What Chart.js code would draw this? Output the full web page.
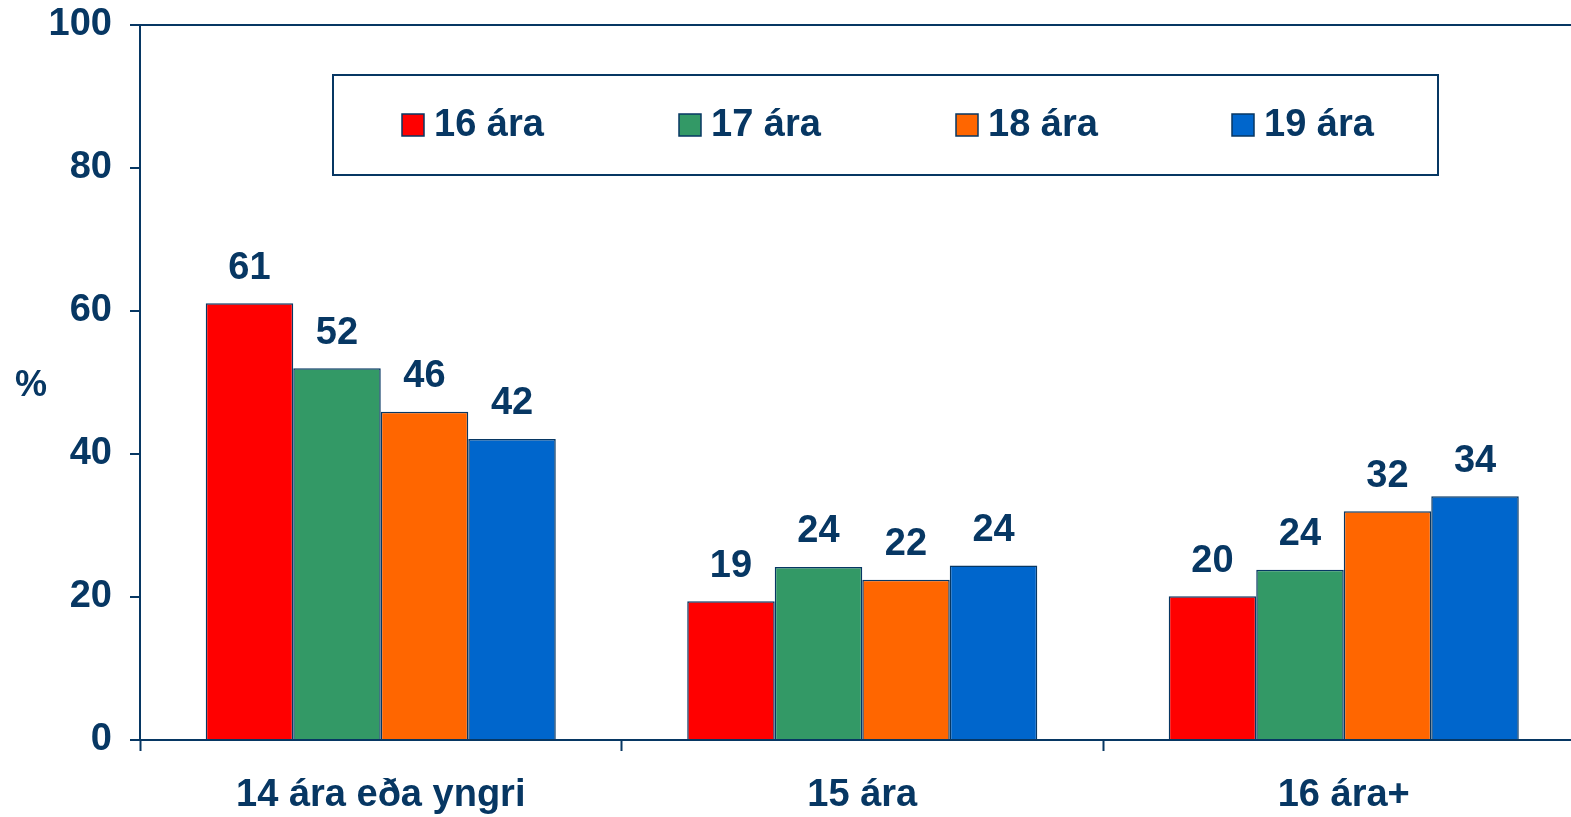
<!DOCTYPE html>
<html>
<head>
<meta charset="utf-8">
<script src="https://cdn.jsdelivr.net/npm/chart.js@4"></script>
<style>
  html, body { margin: 0; padding: 0; background: #fff; overflow: hidden; }
  #wrap { width: 1600px; height: 817px; }
</style>
</head>
<body>
<div id="wrap"><canvas id="c" width="1600" height="817"></canvas></div>
<script>
const categories = ['14 ára eða yngri', '15 ára', '16 ára+'];
const seriesNames = ['16 ára', '17 ára', '18 ára', '19 ára'];
const values16 = [61.1, 19.4, 20.1];
const values17 = [52.0, 24.2, 23.8];
const values18 = [45.9, 22.4, 32.0];
const values19 = [42.1, 24.4, 34.1];
const yTicks = [0, 20, 40, 60, 80, 100];
const seriesColors = ['#FF0000', '#339966', '#FF6600', '#0066CC'];

const NAVY = '#073763';
const FONT = '"Liberation Sans", Arial, sans-serif';

const allValues = [values16, values17, values18, values19];

const labelPlugin = {
  id: 'extras',
  afterDatasetsDraw(chart) {
    const ctx = chart.ctx;
    ctx.save();
    ctx.fillStyle = NAVY;
    ctx.font = 'bold 38px ' + FONT;
    ctx.textAlign = 'center';
    ctx.textBaseline = 'middle';
    chart.data.datasets.forEach((ds, i) => {
      const meta = chart.getDatasetMeta(i);
      meta.data.forEach((bar, j) => {
        ctx.fillText(String(Math.round(ds.data[j])), bar.x, bar.y - 35);
      });
    });
    ctx.restore();
  },
  afterDraw(chart) {
    const ctx = chart.ctx;
    ctx.save();
    // y axis unit
    ctx.fillStyle = NAVY;
    ctx.font = 'bold 36px ' + FONT;
    ctx.textAlign = 'center';
    ctx.textBaseline = 'middle';
    ctx.fillText('%', 31, 386);
    // legend box
    ctx.strokeStyle = NAVY;
    ctx.lineWidth = 2;
    ctx.strokeRect(333, 75, 1105, 100);
    const xs = [402, 679, 956, 1232];
    ctx.font = 'bold 38px ' + FONT;
    ctx.textAlign = 'left';
    chart.data.datasets.forEach((ds, i) => {
      ctx.fillStyle = ds.backgroundColor;
      ctx.fillRect(xs[i], 114, 22, 22);
      ctx.strokeStyle = NAVY;
      ctx.lineWidth = 1.5;
      ctx.strokeRect(xs[i], 114, 22, 22);
      ctx.fillStyle = NAVY;
      ctx.fillText(ds.label, xs[i] + 32, 126);
    });
    ctx.restore();
  }
};

new Chart(document.getElementById('c'), {
  type: 'bar',
  data: {
    labels: categories,
    datasets: seriesNames.map((name, i) => ({
      label: name,
      data: allValues[i],
      backgroundColor: seriesColors[i],
      borderColor: NAVY,
      borderWidth: 1.5,
      categoryPercentage: 0.727,
      barPercentage: 1.0
    }))
  },
  options: {
    responsive: false,
    animation: false,
    layout: { padding: { left: 0, right: 15.5, top: 25, bottom: 0 } },
    plugins: { legend: { display: false }, tooltip: { enabled: false } },
    scales: {
      x: {
        offset: true,
        grid: {
          offset: true,
          drawOnChartArea: false,
          tickLength: 11,
          tickColor: NAVY,
          tickWidth: 2
        },
        border: { color: NAVY, width: 2 },
        ticks: {
          color: NAVY,
          font: { family: FONT, size: 38, weight: 'bold' },
          padding: 22,
          maxRotation: 0
        },
        afterFit(scale) {
          scale.height = 77;
          scale.paddingLeft = 0;
          scale.paddingRight = 0;
        }
      },
      y: {
        min: 0,
        max: 100,
        afterBuildTicks(scale) { scale.ticks = yTicks.map(v => ({ value: v })); },
        grid: {
          color: ctx => (ctx.tick && ctx.tick.value === 100) ? NAVY : 'rgba(0,0,0,0)',
          lineWidth: 2,
          tickLength: 10,
          tickColor: NAVY,
          tickWidth: 2
        },
        border: { color: NAVY, width: 2 },
        ticks: {
          color: NAVY,
          font: { family: FONT, size: 38, weight: 'bold' },
          padding: 18
        },
        afterFit(scale) {
          scale.width = 140;
          scale.paddingTop = 0;
          scale.paddingBottom = 0;
        }
      }
    }
  },
  plugins: [labelPlugin]
});
</script>
</body>
</html>
